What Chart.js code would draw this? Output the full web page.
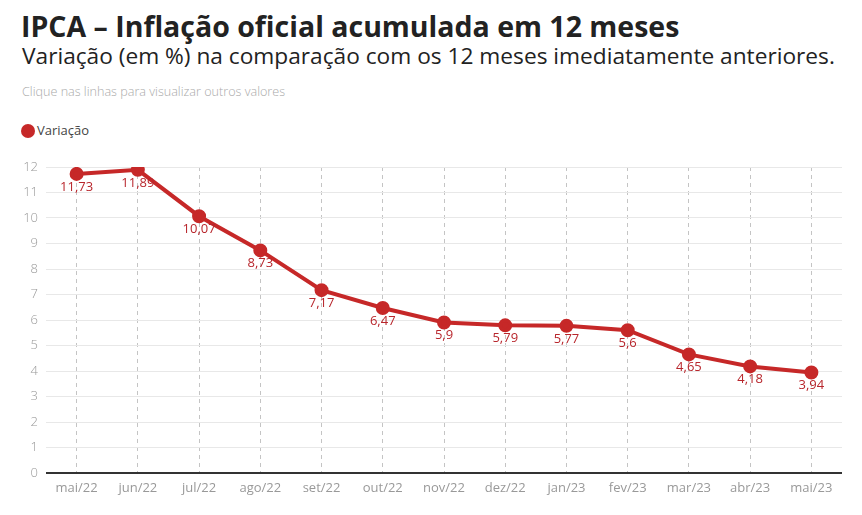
<!DOCTYPE html>
<html><head><meta charset="utf-8">
<script src="https://cdn.jsdelivr.net/npm/chart.js@4/dist/chart.umd.min.js"></script>
<style>
html,body{margin:0;padding:0;background:#fff;width:862px;height:515px;overflow:hidden;font-family:"Open Sans",sans-serif;}
.t{position:absolute;white-space:nowrap;line-height:1;}
#title{left:21px;top:12px;font-size:28.5px;font-weight:700;color:#222;}
#sub{left:22px;top:45px;font-size:22.7px;color:#222;}
#note{left:22px;top:86px;font-size:12.6px;color:#aaa;font-weight:300;}
#dot{position:absolute;left:21px;top:124px;width:14px;height:14px;border-radius:50%;background:#c62828;}
#leg{left:37px;top:123.5px;font-size:13px;color:#444;}
#wrap{position:absolute;left:0;top:150px;width:862px;height:365px;}
</style></head><body>
<div id="title" class="t">IPCA – Inflação oficial acumulada em 12 meses</div>
<div id="sub" class="t">Variação (em %) na comparação com os 12 meses imediatamente anteriores.</div>
<div id="note" class="t">Clique nas linhas para visualizar outros valores</div>
<div id="dot"></div><div id="leg" class="t">Variação</div>
<div id="wrap"><canvas id="c" width="862" height="365"></canvas></div>
<script>
const categories = ["mai/22","jun/22","jul/22","ago/22","set/22","out/22","nov/22","dez/22","jan/23","fev/23","mar/23","abr/23","mai/23"];
const variacao = [11.73,11.89,10.07,8.73,7.17,6.47,5.9,5.79,5.77,5.6,4.65,4.18,3.94];
const yTicks = [0,1,2,3,4,5,6,7,8,9,10,11,12];
const seriesName = "Variação";

const labelPlugin = {
  id:'pointLabels',
  afterDatasetsDraw(chart){
    const ctx = chart.ctx;
    const meta = chart.getDatasetMeta(0);
    const data = chart.data.datasets[0].data;
    ctx.save();
    ctx.font = '13px "Open Sans"';
    ctx.fillStyle = '#b8262c';
    ctx.textAlign = 'center';
    ctx.textBaseline = 'middle';
    meta.data.forEach((pt,i)=>{
      ctx.fillText(String(data[i]).replace('.',','), pt.x, pt.y+13);
    });
    ctx.restore();
  }
};

new Chart(document.getElementById('c'),{
  type:'line',
  data:{labels:categories,datasets:[{label:seriesName,data:variacao,borderColor:'#c62828',backgroundColor:'#c62828',borderWidth:4,pointRadius:5,pointHoverRadius:5,tension:0,fill:false}]},
  options:{
    responsive:false,animation:false,
    layout:{padding:{left:0,right:20,top:17,bottom:0}},
    plugins:{legend:{display:false},tooltip:{enabled:false}},
    scales:{
      x:{offset:true,
        grid:{offset:false,color:'#c4c4c4',lineWidth:1,drawTicks:false},
        border:{display:false,dash:[4,4]},
        ticks:{color:'#999',font:{family:'Open Sans',size:13},padding:7,maxRotation:0,autoSkip:false},
        afterFit(s){s.height=42;}
      },
      y:{min:0,max:12,
        afterBuildTicks(s){s.ticks=yTicks.map(v=>({value:v}));},
        grid:{color:(c)=>c.tick && c.tick.value===0 ? '#333' : '#e8e8e8',lineWidth:(c)=>c.tick && c.tick.value===0 ? 2 : 1,drawTicks:false},
        border:{display:false},
        ticks:{color:'#999',font:{family:'Open Sans',size:13,weight:300},padding:8},
        afterFit(s){s.width=46;}
      }
    }
  },
  plugins:[labelPlugin]
});
</script>
</body></html>
